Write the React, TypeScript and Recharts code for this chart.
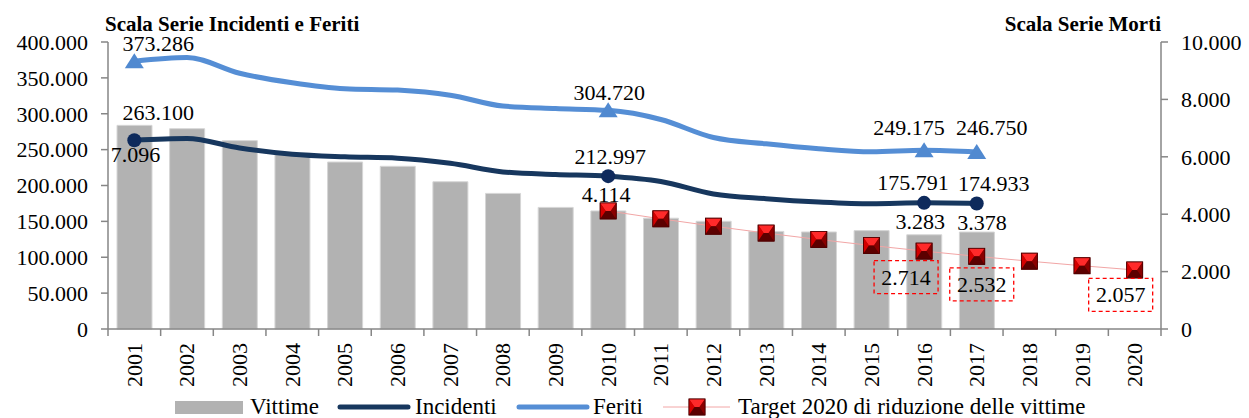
import React from "react";
import { ComposedChart, Bar, Line, XAxis, YAxis, Legend, LabelList } from "recharts";

const years = ["2001","2002","2003","2004","2005","2006","2007","2008","2009","2010","2011","2012","2013","2014","2015","2016","2017","2018","2019","2020"];
const vittime = [7096, 6980, 6563, 6122, 5818, 5669, 5131, 4725, 4237, 4114, 3860, 3753, 3401, 3381, 3428, 3283, 3378, null, null, null];
const incidenti = [263100, 265402, 252271, 243490, 240011, 238124, 230871, 218963, 215405, 212997, 205638, 188228, 181660, 177031, 174539, 175791, 174933, null, null, null];
const feriti = [373286, 378492, 356475, 343179, 334858, 332955, 325850, 310745, 307258, 304720, 292019, 266864, 258093, 251147, 246920, 249175, 246750, null, null, null];
const target = [null, null, null, null, null, null, null, null, null, 4114, 3839, 3582, 3342, 3118, 2909, 2714, 2532, 2363, 2204, 2057];
const leftTicks = [0, 50000, 100000, 150000, 200000, 250000, 300000, 350000, 400000];
const rightTicks = [0, 2000, 4000, 6000, 8000, 10000];

const data = years.map((y, i) => ({
  year: y,
  vittime: vittime[i],
  incidenti: incidenti[i],
  feriti: feriti[i],
  target: target[i],
}));

// style: which points get markers / labels, and label offsets
const markedYears = ["2001", "2010", "2016", "2017"];
const feritiLabelOff: Record<string, [number, number]> = { "2001": [24, -18], "2010": [1, -18], "2016": [-15, -23], "2017": [15, -24] };
const incidentiLabelOff: Record<string, [number, number]> = { "2001": [24, -28], "2010": [2, -20], "2016": [-11, -20], "2017": [17, -20] };
const vittimeLabelOff: Record<string, [number, number]> = { "2001": [1, 29], "2016": [-4, -13], "2017": [5, -10] };
const targetLabelOff: Record<string, [number, number]> = { "2010": [-2, -16] };
const targetBoxOff: Record<string, [number, number]> = { "2016": [-18, 26], "2017": [5, 28], "2020": [-14, 25] };

const FONT = "'Liberation Serif', 'Times New Roman', serif";
const AXIS = "#868686";
const BAND = 1053 / 20;

const fmt = (n: number) => String(Math.round(n)).replace(/\B(?=(\d{3})+(?!\d))/g, ".");

const BevelSquare = ({ cx, cy, s = 8 }: { cx: number; cy: number; s?: number }) => {
  const l = cx - s, r = cx + s, t = cy - s, b = cy + s;
  const ix = 2.5;
  return (
    <g>
      <rect x={l} y={t} width={2 * s} height={2 * s} fill="#b00000" stroke="#5a0000" strokeWidth={0.8} />
      <polygon points={`${l},${t} ${r},${t} ${cx + ix},${cy} ${cx - ix},${cy}`} fill="#ff2a2a" />
      <polygon points={`${l},${t} ${cx - ix},${cy} ${l},${b}`} fill="#d40000" />
      <polygon points={`${r},${t} ${r},${b} ${cx + ix},${cy}`} fill="#8a0000" />
      <polygon points={`${l},${b} ${cx - ix},${cy} ${cx + ix},${cy} ${r},${b}`} fill="#5c0000" />
      <rect x={l} y={t} width={2 * s} height={2 * s} fill="none" stroke="#4a0000" strokeWidth={0.8} />
    </g>
  );
};

const XTick = (props: any) => {
  const { x, y, payload, index } = props;
  return (
    <g>
      <line x1={x - BAND / 2} y1={y} x2={x - BAND / 2} y2={y + 7} stroke={AXIS} strokeWidth={1.5} />
      {index === years.length - 1 && (
        <line x1={x + BAND / 2} y1={y} x2={x + BAND / 2} y2={y + 7} stroke={AXIS} strokeWidth={1.5} />
      )}
      <text
        x={x}
        y={y + 14}
        transform={`rotate(-90, ${x}, ${y + 14})`}
        textAnchor="end"
        dominantBaseline="central"
        fontFamily={FONT}
        fontSize={22}
        fill="#000"
      >
        {payload.value}
      </text>
    </g>
  );
};

const makeLineLabel = (offs: Record<string, [number, number]>) => (props: any) => {
  const { x, y, value, index } = props;
  const yr = years[index];
  const o = offs[yr];
  if (!o || value == null) return null;
  return (
    <text x={x + o[0]} y={y + o[1]} textAnchor="middle" dominantBaseline="central" fontFamily={FONT} fontSize={22} fill="#000">
      {fmt(value)}
    </text>
  );
};

const barLabel = (props: any) => {
  const { x, y, width, value, index } = props;
  const o = vittimeLabelOff[years[index]];
  if (!o || value == null) return null;
  return (
    <text x={x + width / 2 + o[0]} y={y + o[1]} textAnchor="middle" dominantBaseline="central" fontFamily={FONT} fontSize={22} fill="#000">
      {fmt(value)}
    </text>
  );
};

const targetLabel = (props: any) => {
  const { x, y, value, index } = props;
  const yr = years[index];
  if (value == null) return null;
  const o = targetLabelOff[yr];
  if (o) {
    return (
      <text x={x + o[0]} y={y + o[1]} textAnchor="middle" dominantBaseline="central" fontFamily={FONT} fontSize={22} fill="#000">
        {fmt(value)}
      </text>
    );
  }
  const b = targetBoxOff[yr];
  if (b) {
    const cx = x + b[0], cy = y + b[1];
    return (
      <g>
        <rect x={cx - 32} y={cy - 16.5} width={64} height={33} fill="none" stroke="#ff0000" strokeWidth={1.3} strokeDasharray="4 3" />
        <text x={cx} y={cy} textAnchor="middle" dominantBaseline="central" fontFamily={FONT} fontSize={22} fill="#000">
          {fmt(value)}
        </text>
      </g>
    );
  }
  return null;
};

const triangleDot = (props: any) => {
  const { cx, cy, index } = props;
  if (!markedYears.includes(years[index]) || cy == null) return <g key={`t${index}`} />;
  return (
    <polygon key={`t${index}`} points={`${cx},${cy - 8} ${cx + 9.5},${cy + 7} ${cx - 9.5},${cy + 7}`} fill="#5089d0" />
  );
};

const circleDot = (props: any) => {
  const { cx, cy, index } = props;
  if (!markedYears.includes(years[index]) || cy == null) return <g key={`c${index}`} />;
  return <circle key={`c${index}`} cx={cx} cy={cy} r={7} fill="#0e2a5c" />;
};

const squareDot = (props: any) => {
  const { cx, cy, index } = props;
  if (cy == null || cx == null) return <g key={`s${index}`} />;
  return (
    <g key={`s${index}`}>
      <BevelSquare cx={cx} cy={cy} />
    </g>
  );
};

const renderLegend = () => {
  const cy = 10;
  const ts = { fontFamily: FONT, fontSize: 23, fill: "#000" } as const;
  return (
    <svg width={1249} height={22} style={{ display: "block", overflow: "visible" }}>
      <rect x={175} y={cy - 5} width={68} height={13} fill="#b2b2b2" />
      <text x={250} y={cy} dominantBaseline="central" {...ts}>Vittime</text>
      <line x1={340} y1={cy + 1} x2={408} y2={cy + 1} stroke="#17375e" strokeWidth={5} strokeLinecap="round" />
      <text x={415} y={cy} dominantBaseline="central" {...ts}>Incidenti</text>
      <line x1={519} y1={cy + 1} x2={587} y2={cy + 1} stroke="#558ed5" strokeWidth={5} strokeLinecap="round" />
      <text x={593} y={cy} dominantBaseline="central" {...ts}>Feriti</text>
      <line x1={663} y1={cy + 1} x2={730} y2={cy + 1} stroke="#f2a6a6" strokeWidth={1} />
      <BevelSquare cx={697} cy={cy + 1} />
      <text x={738} y={cy} dominantBaseline="central" {...ts}>Target 2020 di riduzione delle vittime</text>
    </svg>
  );
};

const leftTitle = () => (
  <text x={105} y={24} fontFamily={FONT} fontSize={21} fontWeight="bold" dominantBaseline="central" fill="#000">
    Scala Serie Incidenti e Feriti
  </text>
);
const rightTitle = () => (
  <text x={1161} y={24} fontFamily={FONT} fontSize={21} fontWeight="bold" textAnchor="end" dominantBaseline="central" fill="#000">
    Scala Serie Morti
  </text>
);

export default function App() {
  return (
    <div style={{ position: "absolute", left: 0, top: 0, width: 1249, height: 418, background: "#fff" }}>
      <ComposedChart width={1249} height={418} data={data} margin={{ top: 42, right: 0, bottom: 0, left: 0 }}>
        <XAxis
          dataKey="year"
          interval={0}
          height={67}
          tickLine={false}
          tickSize={0}
          tickMargin={0}
          tick={XTick}
          axisLine={{ stroke: AXIS, strokeWidth: 1.5 }}
        />
        <YAxis
          yAxisId="left"
          orientation="left"
          width={108}
          domain={[0, 400000]}
          ticks={leftTicks}
          tickFormatter={fmt}
          tickSize={7}
          tickMargin={13}
          interval={0}
          axisLine={{ stroke: AXIS, strokeWidth: 1.5 }}
          tickLine={{ stroke: AXIS, strokeWidth: 1.5 }}
          tick={{ fontFamily: FONT, fontSize: 22, fill: "#000" }}
          label={{ content: leftTitle }}
        />
        <YAxis
          yAxisId="right"
          orientation="right"
          width={88}
          domain={[0, 10000]}
          ticks={rightTicks}
          tickFormatter={fmt}
          tickSize={7}
          tickMargin={13}
          interval={0}
          axisLine={{ stroke: AXIS, strokeWidth: 1.5 }}
          tickLine={{ stroke: AXIS, strokeWidth: 1.5 }}
          tick={{ fontFamily: FONT, fontSize: 22, fill: "#000" }}
          label={{ content: rightTitle }}
        />
        <Legend verticalAlign="bottom" height={22} content={renderLegend} wrapperStyle={{ left: 0, bottom: 0, width: 1249, height: 22 }} />
        <Bar yAxisId="right" dataKey="vittime" name="Vittime" fill="#b2b2b2" stroke="#d6d6d6" strokeWidth={1} barSize={35} isAnimationActive={false}>
          <LabelList dataKey="vittime" content={barLabel} />
        </Bar>
        <Line yAxisId="left" type="monotone" dataKey="feriti" name="Feriti" stroke="#558ed5" strokeWidth={5} dot={triangleDot} activeDot={false} isAnimationActive={false}>
          <LabelList dataKey="feriti" content={makeLineLabel(feritiLabelOff)} />
        </Line>
        <Line yAxisId="left" type="monotone" dataKey="incidenti" name="Incidenti" stroke="#17375e" strokeWidth={5} dot={circleDot} activeDot={false} isAnimationActive={false}>
          <LabelList dataKey="incidenti" content={makeLineLabel(incidentiLabelOff)} />
        </Line>
        <Line yAxisId="right" type="linear" dataKey="target" name="Target 2020 di riduzione delle vittime" stroke="#f2a6a6" strokeWidth={1} dot={squareDot} activeDot={false} isAnimationActive={false}>
          <LabelList dataKey="target" content={targetLabel} />
        </Line>
      </ComposedChart>
    </div>
  );
}
